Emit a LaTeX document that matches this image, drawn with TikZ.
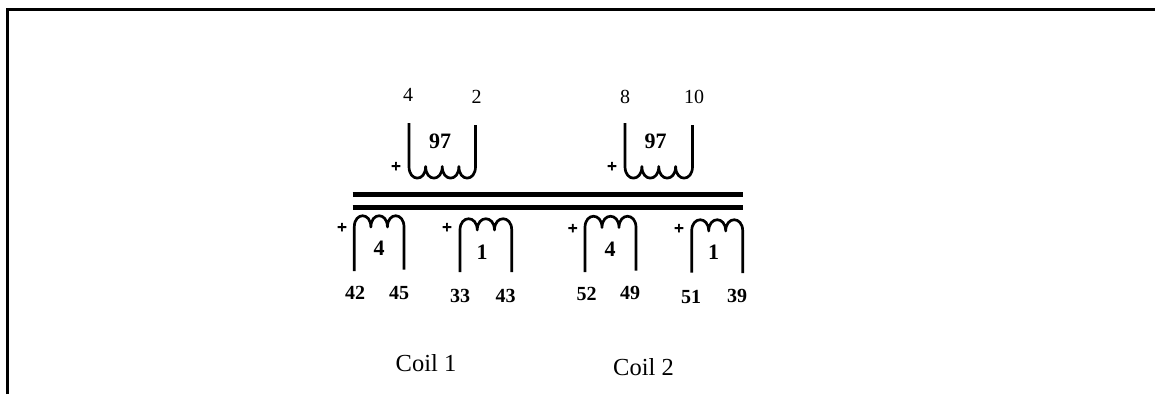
\documentclass[tikz,border=0pt]{standalone}
\usepackage{fontspec}
\setmainfont{Liberation Serif}
\tikzset{
  x=1pt,y=-1pt,
  wire/.style={line width=2.7pt,black,line join=round},
  corebar/.style={line width=5.5pt,black},
  framing/.style={line width=3pt,black},
  pin/.style={inner sep=0pt,font=\fontsize{20}{22}\selectfont},
  pinb/.style={inner sep=0pt,font=\fontsize{20}{22}\selectfont\bfseries},
  turns/.style={inner sep=0pt,font=\fontsize{22}{24}\selectfont\bfseries},
  polarity/.style={inner sep=0pt,font=\fontsize{17}{18}\selectfont\bfseries\addfontfeatures{FakeBold=4}},
  caption/.style={inner sep=0pt,font=\fontsize{24.5}{26}\selectfont},
}
% top winding: left x, right x, top-left y, top-right y, cusp y
\newcommand{\upperwinding}[5]{%
  \pgfmathsetmacro{\wstep}{(#2-#1)/4}%
  \draw[wire] (#1,#3) -- (#1,#5)
    .. controls +(0,15.5) and +(0,15.5) .. ++(\wstep,0)
    .. controls +(0,15.5) and +(0,15.5) .. ++(\wstep,0)
    .. controls +(0,15.5) and +(0,15.5) .. ++(\wstep,0)
    .. controls +(0,15.5) and +(0,15.5) .. (#2,#5) -- (#2,#4);
}
% bottom winding: left x, right x, bottom-left y, bottom-right y, cusp y
\newcommand{\lowerwinding}[5]{%
  \pgfmathsetmacro{\wstep}{(#2-#1)/3}%
  \draw[wire] (#1,#3) -- (#1,#5)
    .. controls +(0,-15) and +(0,-15) .. ++(\wstep,0)
    .. controls +(0,-15) and +(0,-15) .. ++(\wstep,0)
    .. controls +(0,-15) and +(0,-15) .. (#2,#5) -- (#2,#4);
}
\begin{document}
\begin{tikzpicture}
\useasboundingbox (0,0) rectangle (1155,394);
\fill[white] (0,0) rectangle (1155,394);
\coordinate (fa) at (7.5,394);
\coordinate (fb) at (7.5,9);
\coordinate (fc) at (1155,9);
\draw[framing,line join=miter] (fa) -- (fb) -- (fc);
\coordinate (c1a) at (352.5,194.5);
\coordinate (c1b) at (742.5,194.5);
\coordinate (c2a) at (352.5,207.5);
\coordinate (c2b) at (742.5,207.5);
\draw[corebar] (c1a) -- (c1b);
\draw[corebar] (c2a) -- (c2b);

\upperwinding{409}{475.5}{123}{125}{166.5}
\upperwinding{625}{692.5}{123}{125}{166.5}
\lowerwinding{354.3}{404}{271}{269.5}{227}
\lowerwinding{460}{511.7}{272}{272}{230}
\lowerwinding{585}{636}{272}{270.5}{227.5}
\lowerwinding{691.7}{742.7}{272.5}{273}{231}

\node[pin] (n4) at (408,95) {4};
\node[pin] (n2) at (476.5,97) {2};
\node[pin] (n8) at (625,97) {8};
\node[pin] (n10) at (694,97) {10};
\node[turns] (t1) at (440,141.5) {97};
\node[turns] (t2) at (655.7,141.5) {97};
\node[turns] (t3) at (379,248) {4};
\node[turns] (t4) at (482,252) {1};
\node[turns] (t5) at (610,249) {4};
\node[turns] (t6) at (713.7,252) {1};
\node[polarity] (p1) at (396,167) {+};
\node[polarity] (p2) at (612,167) {+};
\node[polarity] (p3) at (342,228) {+};
\node[polarity] (p4) at (447,228) {+};
\node[polarity] (p5) at (572.7,229) {+};
\node[polarity] (p6) at (679,229) {+};
\node[pinb] (l42) at (355,292.7) {42};
\node[pinb] (l45) at (399,292.7) {45};
\node[pinb] (l33) at (460,295.7) {33};
\node[pinb] (l43) at (505.7,295.7) {43};
\node[pinb] (l52) at (586.7,293.7) {52};
\node[pinb] (l49) at (630,293) {49};
\node[pinb] (l51) at (691,296.5) {51};
\node[pinb] (l39) at (737,296) {39};
\node[caption] (cap1) at (426,363) {Coil 1};
\node[caption] (cap2) at (643.5,367) {Coil 2};
\end{tikzpicture}
\end{document}
